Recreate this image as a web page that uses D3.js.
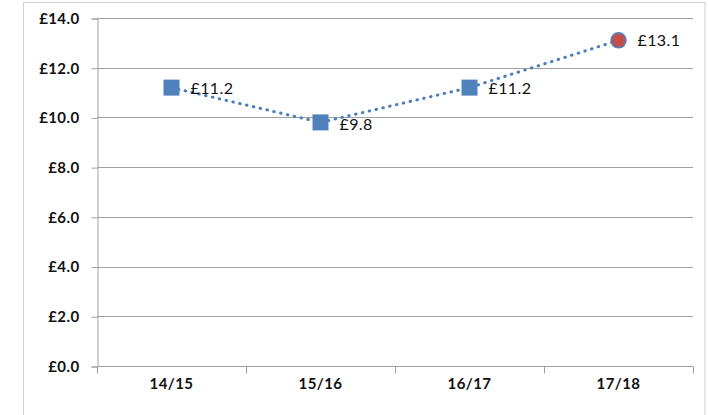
<!DOCTYPE html>
<html>
<head>
<meta charset="utf-8">
<script src="https://cdn.jsdelivr.net/npm/d3@7"></script>
<style>
  html, body { margin: 0; padding: 0; background: #fff; }
  svg { display: block; }
  .tick-label { font-family: Lato, "Open Sans", sans-serif; font-weight: 700; font-size: 15px; fill: #111; letter-spacing: 0.4px; }
  .data-label { font-family: Lato, "Open Sans", sans-serif; font-weight: 400; font-size: 16px; fill: #111; letter-spacing: 0.4px; }
</style>
</head>
<body>
<svg id="chart" width="708" height="415"></svg>
<script>
// Yearly values (£) by financial year
const years = ["14/15", "15/16", "16/17", "17/18"];
const values = [11.2, 9.8, 11.2, 13.1];
const valueLabels = ["£11.2", "£9.8", "£11.2", "£13.1"];
const yTicks = [0, 2, 4, 6, 8, 10, 12, 14];
const yTickLabels = ["£0.0", "£2.0", "£4.0", "£6.0", "£8.0", "£10.0", "£12.0", "£14.0"];

const svg = d3.select("#chart");
const plot = { left: 97, right: 693, top: 18, bottom: 366 };

// Outer chart frame
svg.append("rect")
  .attr("x", 23.5).attr("y", 2.5)
  .attr("width", 705 - 23.5).attr("height", 440)
  .attr("fill", "none").attr("stroke", "#d0d0d0").attr("stroke-width", 1);

const x = d3.scaleBand().domain(years).range([plot.left, plot.right]);
const y = d3.scaleLinear().domain([0, 14]).range([plot.bottom, plot.top]);

// Horizontal gridlines
svg.append("g").selectAll("line").data(yTicks.filter(d => d > 0)).join("line")
  .attr("x1", plot.left).attr("x2", plot.right)
  .attr("y1", d => Math.round(y(d)) + 0.5).attr("y2", d => Math.round(y(d)) + 0.5)
  .attr("stroke", "#a0a0a0").attr("stroke-width", 1);

// Y axis
const yAxis = svg.append("g")
  .attr("transform", `translate(${plot.left + 0.5},0.5)`)
  .call(d3.axisLeft(y).tickValues(yTicks).tickSize(6).tickPadding(12)
    .tickFormat((d, i) => yTickLabels[i]));
yAxis.select(".domain").attr("stroke", "#a0a0a0");
yAxis.selectAll(".tick line").attr("stroke", "#a0a0a0");
yAxis.selectAll(".tick text").attr("class", "tick-label").attr("font-family", null).attr("font-size", null);

// X axis with ticks at band boundaries
const xAxisG = svg.append("g")
  .attr("transform", `translate(0,${Math.round(plot.bottom) + 0.5})`);
xAxisG.append("line")
  .attr("x1", plot.left).attr("x2", plot.right)
  .attr("stroke", "#a0a0a0");
const boundaries = years.map(d => x(d)).concat([x(years[years.length - 1]) + x.bandwidth()]);
xAxisG.selectAll("line.b").data(boundaries).join("line").attr("class", "b")
  .attr("x1", d => Math.round(d) + 0.5).attr("x2", d => Math.round(d) + 0.5)
  .attr("y1", 0).attr("y2", 7)
  .attr("stroke", "#a0a0a0");
xAxisG.selectAll("text").data(years).join("text")
  .attr("class", "tick-label")
  .attr("x", d => x(d) + x.bandwidth() / 2)
  .attr("y", 22)
  .attr("text-anchor", "middle")
  .text(d => d);

// Dotted connecting line
const cx = d => x(d) + x.bandwidth() / 2;
const line = d3.line().x((d, i) => cx(years[i])).y(d => y(d));
svg.append("path")
  .datum(values)
  .attr("d", line)
  .attr("fill", "none")
  .attr("stroke", "#4a7ebb")
  .attr("stroke-width", 3)
  .attr("stroke-linecap", "round")
  .attr("stroke-dasharray", "0.5 6.5");

// Markers: squares for earlier years, circle for latest year
const last = values.length - 1;
svg.append("g").selectAll("rect").data(values.slice(0, last)).join("rect")
  .attr("x", (d, i) => cx(years[i]) - 8)
  .attr("y", d => y(d) - 8)
  .attr("width", 16).attr("height", 16)
  .attr("fill", "#4f81bd");
svg.append("circle")
  .attr("cx", cx(years[last]))
  .attr("cy", y(values[last]))
  .attr("r", 7.5)
  .attr("fill", "#c0504d")
  .attr("stroke", "#4f81bd")
  .attr("stroke-width", 1.5);

// Data labels
svg.append("g").selectAll("text").data(values).join("text")
  .attr("class", "data-label")
  .attr("x", (d, i) => cx(years[i]) + 19)
  .attr("y", (d, i) => y(d) + (i === 1 ? 8 : 6))
  .text((d, i) => valueLabels[i]);
</script>
</body>
</html>
